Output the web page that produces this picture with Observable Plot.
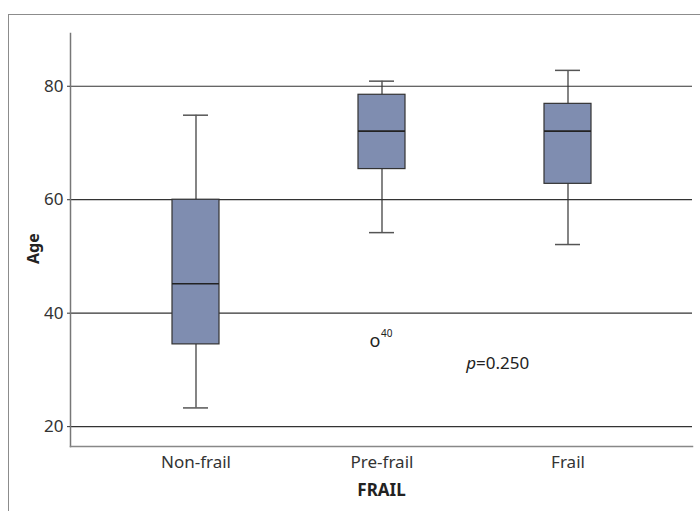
<!DOCTYPE html>
<html>
<head>
<meta charset="utf-8">
<script src="https://cdn.jsdelivr.net/npm/d3@7"></script>
<script src="https://cdn.jsdelivr.net/npm/@observablehq/plot@0.6"></script>
<style>
  html, body { margin: 0; padding: 0; background: #fff; }
  #wrap { position: relative; width: 700px; height: 511px; overflow: hidden; }
  #frame { position: absolute; left: 8px; top: 14px; right: -10px; bottom: -10px;
           border-top: 1.5px solid #8c8c8c; border-left: 1.5px solid #8c8c8c; }
  #chart { position: absolute; left: 0; top: 0; }
</style>
</head>
<body>
<div id="wrap"><div id="frame"></div><div id="chart"></div></div>
<script>
const categories = ["Non-frail", "Pre-frail", "Frail"];
const whiskerLow = [23.3, 54.2, 52.1];
const q1 = [34.5, 65.4, 62.8];
const median = [45.2, 72.1, 72.1];
const q3 = [60.0, 78.5, 76.9];
const whiskerHigh = [74.9, 80.9, 82.8];
const outliers = [{cat: "Pre-frail", value: 35.1, label: "40"}];
const yTicks = [20, 40, 60, 80];
const pValue = {cat: "Pre-frail", y: 31.2, text: "=0.250"};

const boxes = categories.map((c, i) => ({
  cat: c, lo: whiskerLow[i], q1: q1[i], med: median[i], q3: q3[i], hi: whiskerHigh[i]
}));

const font = "'Noto Sans', sans-serif";

const chart = Plot.plot({
  width: 700,
  height: 511,
  marginLeft: 70,
  marginRight: 8,
  marginTop: 33,
  marginBottom: 65,
  style: {fontFamily: font, fontSize: "17px", color: "#333", background: "transparent"},
  x: {type: "band", domain: categories, paddingInner: 0.749, paddingOuter: 0.538, label: null},
  y: {domain: [16.5, 89.3], label: null},
  marks: [
    Plot.ruleY(yTicks, {stroke: "#333", strokeWidth: 1.2}),
    Plot.frame({anchor: "left", stroke: "#777", strokeWidth: 1.5}),
    Plot.frame({anchor: "bottom", stroke: "#888", strokeWidth: 1.5}),
    Plot.axisY({ticks: yTicks, tickSize: 3, tickPadding: 4, fontSize: 17, fill: "#333", label: null}),
    Plot.axisX({tickSize: 0, tickPadding: 9, fontSize: 17, fill: "#333", label: null}),
    Plot.ruleX(boxes, {x: "cat", y1: "lo", y2: "q1", stroke: "#333", strokeWidth: 1.2}),
    Plot.ruleX(boxes, {x: "cat", y1: "q3", y2: "hi", stroke: "#333", strokeWidth: 1.2}),
    Plot.tickY(boxes, {x: "cat", y: "lo", stroke: "#555", strokeWidth: 1.5, insetLeft: 11, insetRight: 11}),
    Plot.tickY(boxes, {x: "cat", y: "hi", stroke: "#555", strokeWidth: 1.5, insetLeft: 11, insetRight: 11}),
    Plot.barY(boxes, {x: "cat", y1: "q1", y2: "q3", fill: "#7f8db0", stroke: "#333", strokeWidth: 1.2}),
    Plot.tickY(boxes, {x: "cat", y: "med", stroke: "#222", strokeWidth: 1.6}),
    Plot.text(outliers, {x: "cat", y: "value", text: () => "o", dx: -7, fontSize: 18, fill: "#222"}),
    Plot.text(outliers, {x: "cat", y: "value", text: "label", dx: -1, dy: -7, fontSize: 10, textAnchor: "start", fill: "#222"}),
    Plot.text([pValue], {x: "cat", y: "y", text: () => "p", dx: 94, fontSize: 17, fontStyle: "italic", textAnchor: "end", fill: "#222"}),
    Plot.text([pValue], {x: "cat", y: "y", text: "text", dx: 94, fontSize: 17, textAnchor: "start", fill: "#222"}),
    Plot.text(["FRAIL"], {frameAnchor: "bottom", dy: 49, fontSize: 17, fontWeight: "bold", fill: "#222"}),
    Plot.text(["Age"], {frameAnchor: "left", dx: -37, dy: 24, rotate: -90, fontSize: 16, fontWeight: "bold", fill: "#222"})
  ]
});
document.getElementById("chart").appendChild(chart);
</script>
</body>
</html>
